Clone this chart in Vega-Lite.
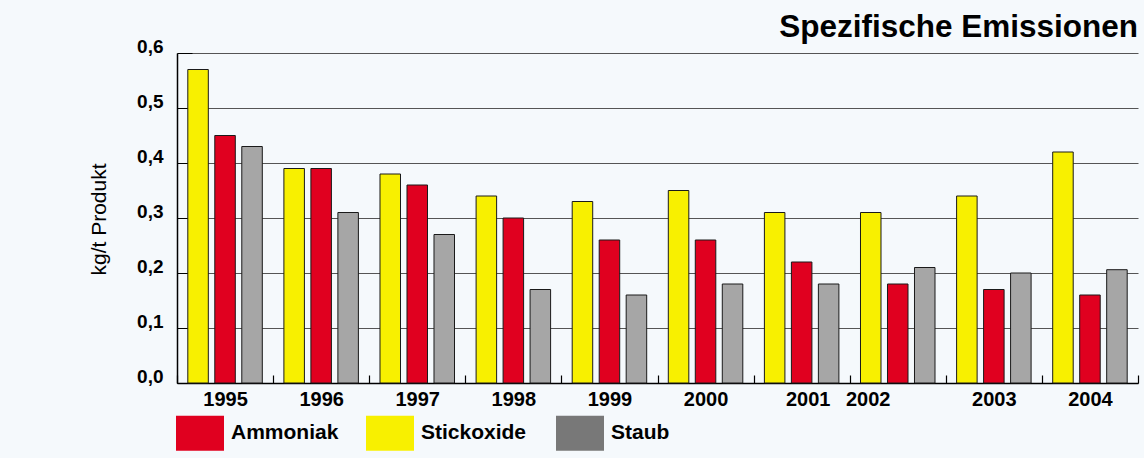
{
  "$schema": "https://vega.github.io/schema/vega-lite/v6.json",
  "width": 961,
  "height": 330,
  "autosize": "none",
  "padding": {"left": 177, "top": 53, "right": 6, "bottom": 75},
  "background": "#F5F9FC",
  "config": {
    "font": "Liberation Sans",
    "view": {"stroke": null}
  },
  "title": {
    "text": "Spezifische Emissionen",
    "anchor": "end",
    "frame": "group",
    "fontSize": 31.5,
    "fontWeight": "bold",
    "color": "#000000",
    "baseline": "alphabetic",
    "offset": 16,
    "dy": 47
  },
  "data": {
    "values": [
      {"Jahr": "1995", "Stoff": "Stickoxide", "Wert": 0.57},
      {"Jahr": "1995", "Stoff": "Ammoniak", "Wert": 0.45},
      {"Jahr": "1995", "Stoff": "Staub", "Wert": 0.43},
      {"Jahr": "1996", "Stoff": "Stickoxide", "Wert": 0.39},
      {"Jahr": "1996", "Stoff": "Ammoniak", "Wert": 0.39},
      {"Jahr": "1996", "Stoff": "Staub", "Wert": 0.31},
      {"Jahr": "1997", "Stoff": "Stickoxide", "Wert": 0.38},
      {"Jahr": "1997", "Stoff": "Ammoniak", "Wert": 0.36},
      {"Jahr": "1997", "Stoff": "Staub", "Wert": 0.27},
      {"Jahr": "1998", "Stoff": "Stickoxide", "Wert": 0.34},
      {"Jahr": "1998", "Stoff": "Ammoniak", "Wert": 0.30},
      {"Jahr": "1998", "Stoff": "Staub", "Wert": 0.17},
      {"Jahr": "1999", "Stoff": "Stickoxide", "Wert": 0.33},
      {"Jahr": "1999", "Stoff": "Ammoniak", "Wert": 0.26},
      {"Jahr": "1999", "Stoff": "Staub", "Wert": 0.16},
      {"Jahr": "2000", "Stoff": "Stickoxide", "Wert": 0.35},
      {"Jahr": "2000", "Stoff": "Ammoniak", "Wert": 0.26},
      {"Jahr": "2000", "Stoff": "Staub", "Wert": 0.18},
      {"Jahr": "2001", "Stoff": "Stickoxide", "Wert": 0.31},
      {"Jahr": "2001", "Stoff": "Ammoniak", "Wert": 0.22},
      {"Jahr": "2001", "Stoff": "Staub", "Wert": 0.18},
      {"Jahr": "2002", "Stoff": "Stickoxide", "Wert": 0.31},
      {"Jahr": "2002", "Stoff": "Ammoniak", "Wert": 0.18},
      {"Jahr": "2002", "Stoff": "Staub", "Wert": 0.21},
      {"Jahr": "2003", "Stoff": "Stickoxide", "Wert": 0.34},
      {"Jahr": "2003", "Stoff": "Ammoniak", "Wert": 0.17},
      {"Jahr": "2003", "Stoff": "Staub", "Wert": 0.20},
      {"Jahr": "2004", "Stoff": "Stickoxide", "Wert": 0.42},
      {"Jahr": "2004", "Stoff": "Ammoniak", "Wert": 0.16},
      {"Jahr": "2004", "Stoff": "Staub", "Wert": 0.206}
    ]
  },
  "encoding": {
    "x": {
      "field": "Jahr",
      "type": "nominal",
      "scale": {"paddingInner": 0, "paddingOuter": 0},
      "axis": {
        "title": null,
        "labelAngle": 0,
        "labelFontSize": 20,
        "labelFontWeight": "bold",
        "labelColor": "#000000",
        "labelBaseline": "alphabetic",
        "labelPadding": 30,
        "labelOffset": {
          "condition": [
            {"test": "datum.value === '2002'", "value": -30},
            {"test": "datum.value === '2001'", "value": 6}
          ],
          "value": 0
        },
        "domainColor": "#000000",
        "domainWidth": 1.5,
        "tickBand": "extent",
        "tickSize": -8,
        "tickColor": "#000000",
        "tickWidth": 1.2,
        "grid": false
      }
    },
    "xOffset": {
      "field": "Stoff",
      "type": "nominal",
      "sort": ["Stickoxide", "Ammoniak", "Staub"],
      "scale": {"paddingInner": 0.24, "paddingOuter": 0.4}
    },
    "y": {
      "field": "Wert",
      "type": "quantitative",
      "scale": {"domain": [0, 0.6], "nice": false},
      "axis": {
        "title": "kg/t Produkt",
        "titleFontSize": 21,
        "titleFontWeight": "normal",
        "titleColor": "#000000",
        "titleX": -78,
        "titleY": 166,
        "titleAngle": -90,
        "titleBaseline": "middle",
        "titleAlign": "center",
        "values": [0, 0.1, 0.2, 0.3, 0.4, 0.5, 0.6],
        "labelExpr": "replace(format(datum.value, '.1f'), '.', ',')",
        "labelFontSize": 19,
        "labelFontWeight": "bold",
        "labelColor": "#000000",
        "labelBaseline": "alphabetic",
        "labelOffset": -1,
        "labelPadding": 29,
        "domainColor": "#000000",
        "domainWidth": 1.5,
        "tickSize": -15,
        "tickColor": "#000000",
        "tickWidth": 1,
        "grid": true,
        "gridColor": "#555555",
        "gridWidth": 1
      }
    }
  },
  "layer": [
    {
      "mark": {"type": "bar", "stroke": "#1a1a1a", "strokeWidth": 1},
      "encoding": {
        "color": {
          "field": "Stoff",
          "type": "nominal",
          "scale": {
            "domain": ["Ammoniak", "Stickoxide", "Staub"],
            "range": ["#E0001F", "#F8F000", "#A6A6A6"]
          },
          "legend": null
        }
      }
    },
    {
      "transform": [{"filter": "false"}],
      "mark": {"type": "bar"},
      "encoding": {
        "color": {
          "field": "Stoff",
          "type": "nominal",
          "scale": {
            "domain": ["Ammoniak", "Stickoxide", "Staub"],
            "range": ["#E0001F", "#F8F000", "#787878"]
          },
          "legend": {
            "title": null,
            "orient": "none",
            "legendX": -1,
            "legendY": 356,
            "direction": "horizontal",
            "columns": 3,
            "gridAlign": "all",
            "columnPadding": 27,
            "symbolType": "M-1,-0.73L1,-0.73L1,0.73L-1,0.73Z",
            "symbolSize": 2304,
            "symbolStrokeWidth": 0,
            "symbolOpacity": 1,
            "labelFontSize": 21,
            "labelFontWeight": "bold",
            "labelColor": "#000000",
            "labelOffset": 7
          }
        }
      }
    }
  ],
  "resolve": {"scale": {"color": "independent"}}
}
